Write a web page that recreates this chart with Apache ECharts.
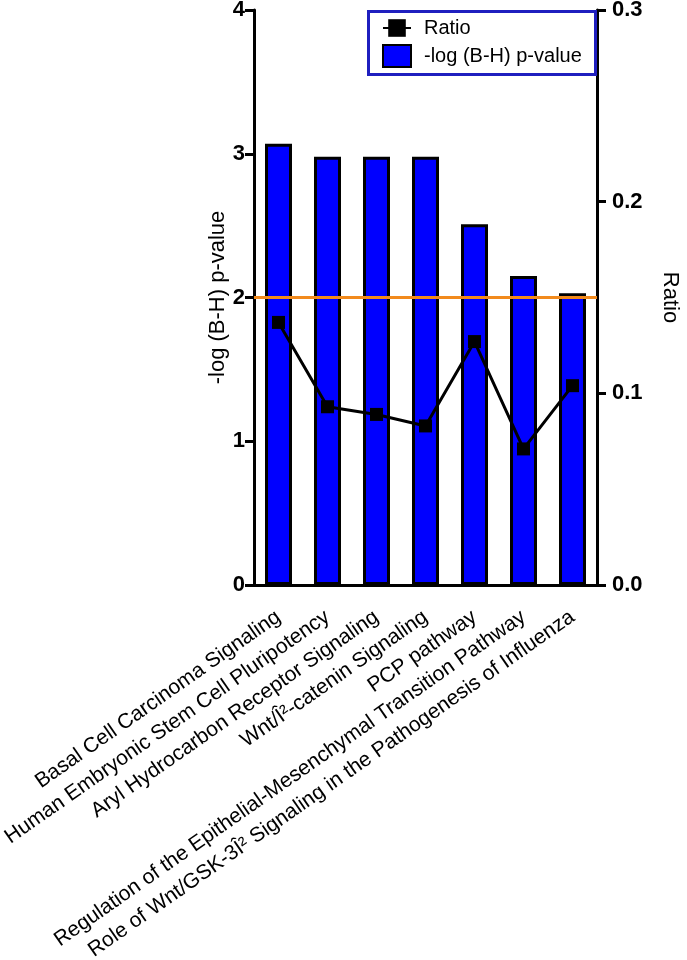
<!DOCTYPE html>
<html>
<head>
<meta charset="utf-8">
<script src="https://cdn.jsdelivr.net/npm/echarts@6/dist/echarts.min.js"></script>
<style>html,body{margin:0;padding:0;background:#fff}#c{width:687px;height:960px}</style>
</head>
<body>
<div id="c"></div>
<script>
const categories = [
  "Basal Cell Carcinoma Signaling",
  "Human Embryonic Stem Cell Pluripotency",
  "Aryl Hydrocarbon Receptor Signaling",
  "Wnt/Î²-catenin Signaling",
  "PCP pathway",
  "Regulation of the Epithelial-Mesenchymal Transition Pathway",
  "Role of Wnt/GSK-3Î² Signaling in the Pathogenesis of Influenza"
];
const pValues = [3.07, 2.98, 2.98, 2.98, 2.51, 2.15, 2.03];
const ratios = [0.137, 0.093, 0.089, 0.083, 0.127, 0.071, 0.104];
const threshold = 2;
const leftTicks = [0, 1, 2, 3, 4];
const rightTicks = [0, 0.1, 0.2, 0.3];

const FONT = 'Arial, "Liberation Sans", sans-serif';
const chart = echarts.init(document.getElementById('c'));
chart.setOption({
  animation: false,
  textStyle: { fontFamily: FONT },
  grid: { left: 254, right: 90, top: 10, bottom: 375, containLabel: false, outerBoundsMode: 'none' },
  legend: {
    orient: 'vertical', left: 377, top: 13, itemGap: 6,
    itemWidth: 28, itemHeight: 22,
    textStyle: { fontSize: 20, color: '#000', fontFamily: FONT, padding: [0, 0, 0, 8] },
    data: [
      { name: 'Ratio' },
      { name: '-log (B-H) p-value', icon: 'rect' }
    ]
  },
  graphic: [{
    type: 'rect', left: 366, top: 9, z: 100,
    shape: { width: 227, height: 63 },
    style: { fill: 'none', stroke: '#1f1fbf', lineWidth: 3 }
  }],
  xAxis: {
    type: 'category', data: categories,
    axisLine: { lineStyle: { color: '#000', width: 3 } },
    axisTick: { alignWithLabel: true, length: 9, lineStyle: { width: 3, color: '#000' } },
    axisLabel: { rotate: 35, fontSize: 21, color: '#000', margin: 30, interval: 0, fontFamily: FONT }
  },
  yAxis: [{
    type: 'value', min: leftTicks[0], max: leftTicks[leftTicks.length - 1], interval: 1,
    name: '-log (B-H) p-value', nameLocation: 'middle', nameGap: 19,
    nameTextStyle: { fontSize: 22, color: '#000', fontFamily: FONT },
    axisLine: { show: true, lineStyle: { color: '#000', width: 3 } },
    axisTick: { show: true, length: 9, lineStyle: { width: 3, color: '#000' } },
    axisLabel: { fontSize: 22, fontWeight: 'bold', color: '#000', margin: 9, fontFamily: FONT },
    splitLine: { show: false }
  }, {
    type: 'value', position: 'right', min: rightTicks[0], max: rightTicks[rightTicks.length - 1], interval: 0.1,
    name: 'Ratio', nameLocation: 'middle', nameGap: 62, nameRotate: -90,
    nameTextStyle: { fontSize: 22, color: '#000', fontFamily: FONT },
    axisLine: { show: true, lineStyle: { color: '#000', width: 3 } },
    axisTick: { show: true, length: 9, lineStyle: { width: 3, color: '#000' } },
    axisLabel: { fontSize: 22, fontWeight: 'bold', color: '#000', margin: 15, fontFamily: FONT,
      formatter: v => v.toFixed(1) },
    splitLine: { show: false }
  }],
  series: [{
    name: '-log (B-H) p-value', type: 'bar', data: pValues, barWidth: 27,
    itemStyle: { color: '#0000ff', borderColor: '#000', borderWidth: 3 },
    markLine: {
      silent: true, symbol: 'none', label: { show: false },
      lineStyle: { color: '#f28a1c', width: 3, type: 'solid' },
      data: [{ yAxis: threshold }]
    }
  }, {
    name: 'Ratio', type: 'line', yAxisIndex: 1, data: ratios,
    symbol: 'rect', symbolSize: 13,
    lineStyle: { color: '#000', width: 3 },
    itemStyle: { color: '#000' },
    z: 5
  }]
});
</script>
</body>
</html>
